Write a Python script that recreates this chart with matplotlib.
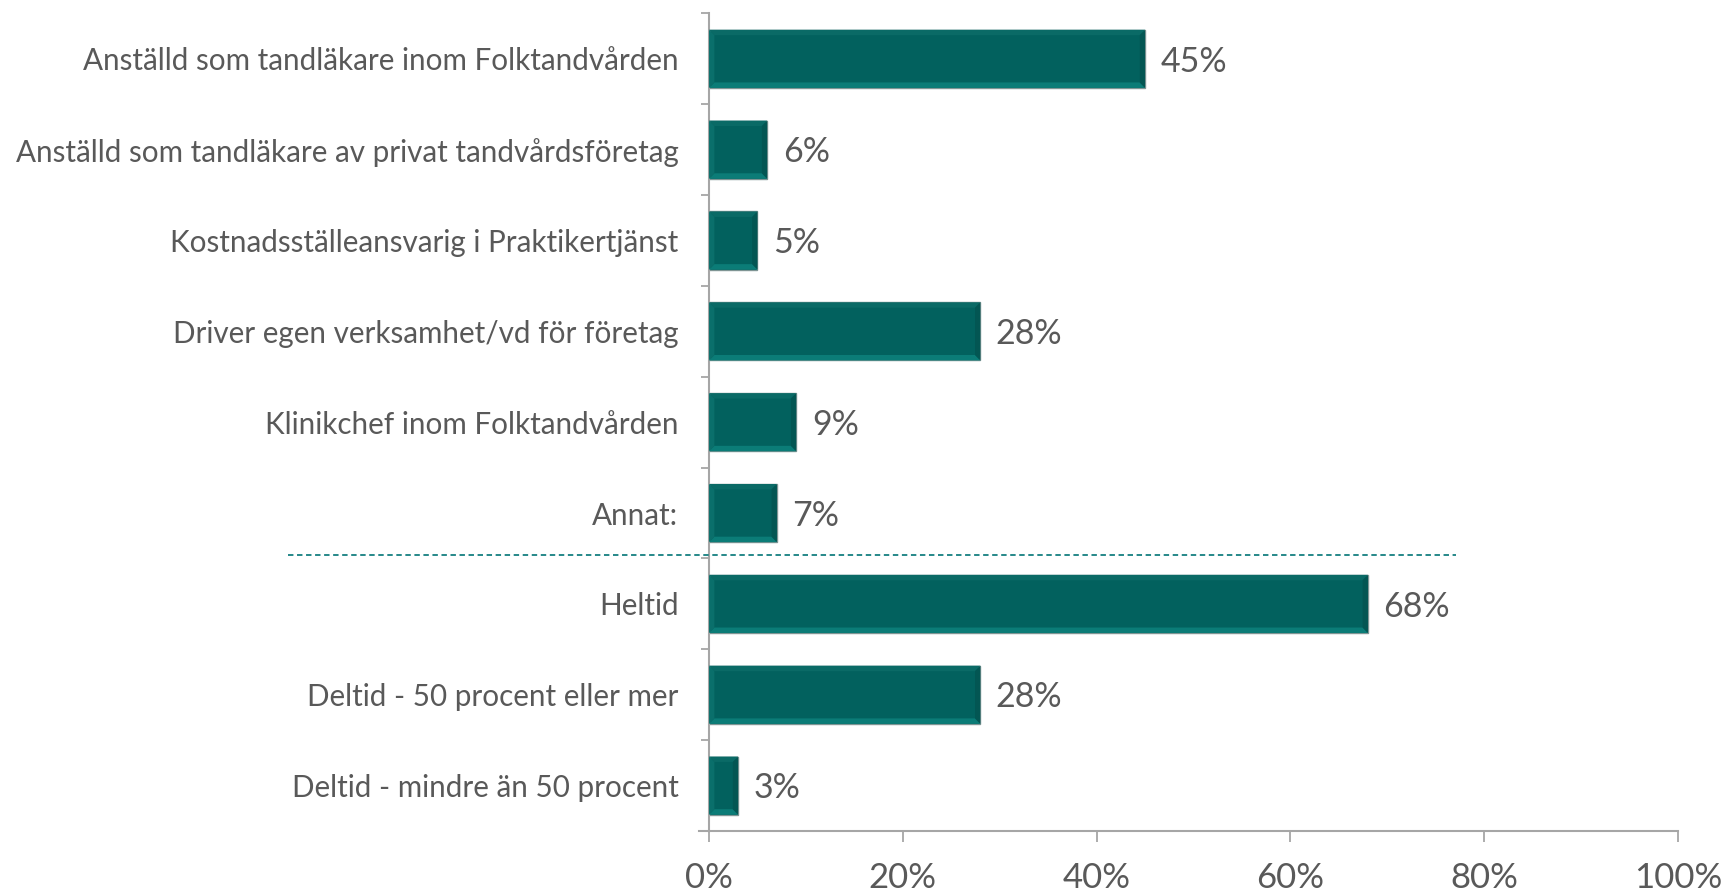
import numpy as np
import matplotlib.pyplot as plt
from matplotlib.patches import Polygon

plt.rcParams['font.family'] = ['Lato', 'DejaVu Sans']

categories = ["Anställd som tandläkare inom Folktandvården",
              "Anställd som tandläkare av privat tandvårdsföretag",
              "Kostnadsställeansvarig i Praktikertjänst",
              "Driver egen verksamhet/vd för företag",
              "Klinikchef inom Folktandvården",
              "Annat:",
              "Heltid",
              "Deltid - 50 procent eller mer",
              "Deltid - mindre än 50 procent"]
values = [45, 6, 5, 28, 9, 7, 68, 28, 3]
xticks = [0, 20, 40, 60, 80, 100]

txt = '#595959'
axcol = '#a6a6a6'

fig = plt.figure(figsize=(17.21, 8.93), dpi=100)
ax = fig.add_axes([0.412, 0.0694, 0.563, 0.9156])

y = np.arange(len(categories))
h = 0.64
bars = ax.barh(y, values, height=h, color='#02615e', edgecolor='#7f9594', linewidth=1.0, zorder=2)

# simple bevel look on each bar
bx = 0.55
by = 0.06
for b in bars:
    x0, y0 = b.get_x(), b.get_y()
    w, hh = b.get_width(), b.get_height()
    x1, y1 = x0 + w, y0 + hh
    # lower edge (visually bottom, larger y because axis is inverted)
    ax.add_patch(Polygon([[x0, y1], [x1, y1], [x1 - bx, y1 - by], [x0 + bx, y1 - by]],
                         closed=True, color='#0b7c77', lw=0, zorder=3))
    ax.add_patch(Polygon([[x0, y0], [x1, y0], [x1 - bx, y0 + by], [x0 + bx, y0 + by]],
                         closed=True, color='#0a6a66', lw=0, zorder=3))
    ax.add_patch(Polygon([[x1, y0], [x1, y1], [x1 - bx, y1 - by], [x1 - bx, y0 + by]],
                         closed=True, color='#035653', lw=0, zorder=3))
    ax.add_patch(Polygon([[x0, y0], [x0, y1], [x0 + bx, y1 - by], [x0 + bx, y0 + by]],
                         closed=True, color='#0a6f6b', lw=0, zorder=3))

for yi, v in zip(y, values):
    ax.text(v + 1.6, yi + 0.03, f"{v}%", va='center', ha='left', fontsize=24.5, color=txt)

ax.set_ylim(len(categories) - 0.5, -0.5)
ax.set_xlim(0, 100)
ax.set_yticks(y)
ax.set_yticklabels(categories, fontsize=21.3, color=txt)
ax.set_yticks(np.arange(-0.5, len(categories), 1), minor=True)
ax.tick_params(axis='y', which='major', length=0, pad=22)
ax.tick_params(axis='y', which='minor', length=6, color=axcol, width=1.3)
ax.set_xticks(xticks)
ax.set_xticklabels([f"{t}%" for t in xticks], fontsize=25, color=txt)
ax.tick_params(axis='x', length=8, color=axcol, width=1.3, pad=14)

for s in ['top', 'right']:
    ax.spines[s].set_visible(False)
for s in ['left', 'bottom']:
    ax.spines[s].set_color(axcol)
    ax.spines[s].set_linewidth(1.5)
# x axis line sticks out a little left of the y axis
ax.plot([-1.0, 0], [len(categories) - 0.5] * 2, color=axcol, lw=1.5, clip_on=False)

# separator between the two question groups
ax.plot([-43.5, 77.1], [5.46, 5.46], ls=(0, (3, 2)), color='#157f80', lw=1.3,
        clip_on=False, zorder=4)

fig.savefig('out.png', dpi=100)
